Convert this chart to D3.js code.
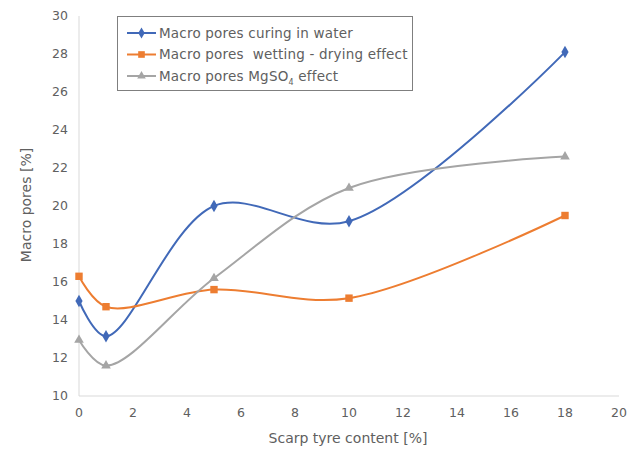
<!DOCTYPE html>
<html><head><meta charset="utf-8">
<script src="https://cdn.jsdelivr.net/npm/d3@7"></script>
<style>body{margin:0;background:#fff;}svg text{font-family:"DejaVu Sans",sans-serif;}</style>
</head><body><svg id="c" width="639" height="452"></svg>
<script>
const xValues = [0, 1, 5, 10, 18];
const curingWater = [15.0, 13.15, 20.0, 19.2, 28.1];
const wettingDrying = [16.3, 14.7, 15.6, 15.15, 19.5];
const mgso4 = [12.95, 11.6, 16.2, 20.95, 22.6];
const xTicks = [0,2,4,6,8,10,12,14,16,18,20];
const yTicks = [10,12,14,16,18,20,22,24,26,28,30];
const seriesNames = ["Macro pores curing in water","Macro pores  wetting - drying effect","Macro pores MgSO"];

const svg = d3.select("#c");
const x = d3.scaleLinear().domain([0,20]).range([79,619]);
const y = d3.scaleLinear().domain([10,30]).range([396,16]);
const txt = "#606060";

svg.append("line").attr("x1",x(0)).attr("x2",x(0)).attr("y1",y(30)).attr("y2",y(10)).attr("stroke","#d9d9d9");
svg.append("line").attr("x1",x(0)).attr("x2",x(20)).attr("y1",y(10)).attr("y2",y(10)).attr("stroke","#d9d9d9");

svg.selectAll(".yt").data(yTicks).join("text").attr("x",68).attr("y",d=>y(d)).attr("dy","0.35em")
  .attr("text-anchor","end").attr("font-size",12.5).attr("fill",txt).text(d=>d);
svg.selectAll(".xt").data(xTicks).join("text").attr("x",d=>x(d)).attr("y",413).attr("dy","0.35em")
  .attr("text-anchor","middle").attr("font-size",12.5).attr("fill",txt).text(d=>d);

svg.append("text").attr("x",348).attr("y",443).attr("text-anchor","middle").attr("font-size",14).attr("fill",txt).text("Scarp tyre content [%]");
svg.append("text").attr("transform","translate(31,205) rotate(-90)").attr("text-anchor","middle").attr("font-size",14).attr("fill",txt).text("Macro pores [%]");

const series = [
  {vals: curingWater, color:"#4169B8", shape:"diamond"},
  {vals: wettingDrying, color:"#ED7D31", shape:"square"},
  {vals: mgso4, color:"#A5A5A5", shape:"triangle"}
];
const line = d3.line().x(d=>x(d[0])).y(d=>y(d[1])).curve(d3.curveCatmullRom.alpha(0.5));
const sym = {diamond:d3.symbolDiamond, square:d3.symbolSquare, triangle:d3.symbolTriangle};
const size = {diamond:45, square:55, triangle:40};

series.forEach(s=>{
  const pts = xValues.map((v,i)=>[v,s.vals[i]]);
  svg.append("path").attr("d",line(pts)).attr("fill","none").attr("stroke",s.color).attr("stroke-width",2);
  svg.selectAll(null).data(pts).join("path")
    .attr("transform",d=>`translate(${x(d[0])},${y(d[1])})`)
    .attr("d",d3.symbol().type(sym[s.shape]).size(size[s.shape])).attr("fill",s.color);
});

const lg = svg.append("g");
lg.append("rect").attr("x",117.5).attr("y",16.5).attr("width",295).attr("height",74).attr("fill","#fff").attr("stroke","#7f7f7f").attr("stroke-width",1);
series.forEach((s,i)=>{
  const cy = 33 + i*21.5;
  lg.append("line").attr("x1",127).attr("x2",156).attr("y1",cy).attr("y2",cy).attr("stroke",s.color).attr("stroke-width",2);
  lg.append("path").attr("transform",`translate(141.5,${cy})`).attr("d",d3.symbol().type(sym[s.shape]).size(size[s.shape]*0.8)).attr("fill",s.color);
  const t = lg.append("text").attr("x",159).attr("y",cy).attr("dy","0.35em").attr("font-size",13.5).attr("letter-spacing",0.2).attr("fill",txt).style("white-space","pre");
  t.append("tspan").text(seriesNames[i]);
  if(i===2){
    t.append("tspan").attr("font-size",8).attr("dy",4).text("4");
    t.append("tspan").attr("dy",-4).text(" effect");
  }
});
</script></body></html>
